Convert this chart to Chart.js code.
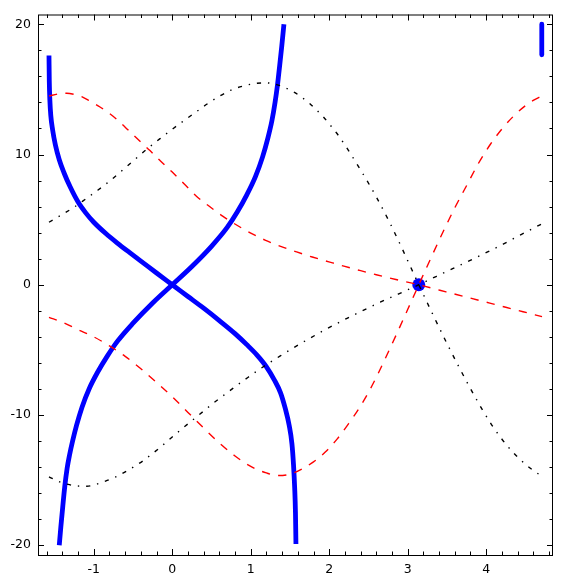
<!DOCTYPE html>
<html><head><meta charset="utf-8">
<script src="https://cdn.jsdelivr.net/npm/chart.js@4/dist/chart.umd.min.js"></script>
<style>html,body{margin:0;padding:0;background:#fff;overflow:hidden;}canvas{display:block;}</style>
</head><body>
<canvas id="c" width="562" height="585"></canvas>
<script>
// ---- tick labels ----
const xTickValues = [-1, 0, 1, 2, 3, 4];
const xTickLabels = ['-1', '0', '1', '2', '3', '4'];
const yTickValues = [-20, -10, 0, 10, 20];
const yTickLabels = ['-20', '-10', '0', '10', '20'];

// ---- blue thick curve, increasing through origin ----
const blueUpX = [-1.44,-1.42,-1.395,-1.37,-1.34,-1.31,-1.27,-1.22,-1.15,-1.06,-0.95,-0.83,-0.7,-0.5,-0.25,0,0.25,0.5,0.7,0.83,0.95,1.06,1.15,1.22,1.27,1.31,1.34,1.37,1.395,1.423];
const blueUpY = [-20,-18.6,-17.0,-15.5,-14.1,-13.1,-12.0,-10.8,-9.4,-8.0,-6.7,-5.5,-4.35,-2.95,-1.4,0,1.4,2.95,4.4,5.6,6.9,8.3,9.8,11.3,12.6,14.0,15.3,16.9,18.3,20];

// ---- blue thick curve, decreasing through origin ----
const blueDownX = [-1.571,-1.567,-1.56,-1.548,-1.525,-1.49,-1.44,-1.38,-1.3,-1.2,-1.1,-1.0,-0.85,-0.7,-0.55,-0.4,-0.2,0,0.2,0.4,0.6,0.8,0.95,1.08,1.2,1.3,1.38,1.44,1.49,1.525,1.545,1.56,1.57,1.576];
const blueDownY = [17.6,15.6,14.2,13.0,11.9,10.75,9.6,8.6,7.5,6.35,5.5,4.8,3.95,3.2,2.5,1.82,0.9,0,-0.9,-1.8,-2.75,-3.75,-4.6,-5.4,-6.3,-7.3,-8.3,-9.5,-10.8,-12.2,-13.8,-15.6,-17.5,-19.9];

// ---- short blue piece at the right edge ----
const blueEdgeX = [4.709, 4.709];
const blueEdgeY = [20, 17.65];

// ---- blue point ----
const dotX = [3.1416];
const dotY = [0];

// ---- red dashed curve 1 ----
const red1X = [-1.571,-1.45,-1.345,-1.25,-1.154,-1.05,-0.921,-0.8,-0.708,-0.6,-0.497,-0.4,-0.284,-0.15,0,0.15,0.311,0.459,0.642,0.841,1.0,1.19,1.381,1.585,1.784,1.996,2.187,2.4,2.6,2.85,3.1416,3.41,3.62,3.79,4.047,4.25,4.47,4.712];
const red1Y = [14.5,14.65,14.7,14.62,14.45,14.1,13.65,13.15,12.7,12.1,11.5,10.95,10.3,9.5,8.65,7.75,6.78,6.08,5.27,4.51,3.97,3.41,2.95,2.52,2.13,1.76,1.43,1.08,0.77,0.4,0,-0.42,-0.75,-1.01,-1.41,-1.73,-2.07,-2.45];

// ---- red dashed curve 2 ----
const red2X = [-1.571,-1.4,-1.2,-1.0,-0.8,-0.6,-0.4,-0.2,0,0.2,0.4,0.6,0.8,1.0,1.2,1.35,1.5,1.65,1.8,1.95,2.1,2.25,2.4,2.55,2.7,2.85,3.0,3.1416,3.3,3.45,3.6,3.75,3.9,4.05,4.2,4.35,4.5,4.6,4.712];
const red2Y = [-2.5,-2.88,-3.45,-4.0,-4.7,-5.5,-6.45,-7.5,-8.6,-9.8,-11.0,-12.15,-13.15,-13.95,-14.45,-14.65,-14.55,-14.15,-13.6,-12.85,-11.85,-10.65,-9.3,-7.7,-5.85,-3.9,-1.9,0,2.1,4.05,5.9,7.6,9.3,10.75,11.95,12.95,13.75,14.15,14.5];

// ---- black dash-dot curve 1 ----
const black1X = [-1.571,-1.4,-1.24,-1.1,-0.963,-0.8,-0.624,-0.47,-0.326,-0.16,0.013,0.183,0.311,0.45,0.608,0.75,0.9,1.075,1.2,1.33,1.45,1.563,1.66,1.754,1.85,1.924,2.0,2.094,2.22,2.35,2.476,2.604,2.773,2.943,3.1416,3.326,3.5,3.665,3.78,3.878,3.96,4.07,4.175,4.26,4.344,4.43,4.515,4.61,4.712];
const black1Y = [4.8,5.4,6.0,6.6,7.2,7.95,8.85,9.65,10.4,11.2,12.0,12.75,13.3,13.9,14.5,14.95,15.25,15.47,15.5,15.37,15.1,14.75,14.35,13.9,13.35,12.9,12.35,11.65,10.55,9.3,8.05,6.7,4.75,2.6,0,-2.35,-4.5,-6.45,-7.75,-8.82,-9.68,-10.75,-11.65,-12.3,-12.88,-13.4,-13.86,-14.3,-14.7];

// ---- black dash-dot curve 2 ----
const black2X = [-1.571,-1.45,-1.345,-1.22,-1.09,-0.96,-0.836,-0.7,-0.581,-0.47,-0.369,-0.26,-0.157,-0.05,0.056,0.14,0.268,0.4,0.522,0.63,0.735,0.841,0.98,1.117,1.25,1.372,1.52,1.669,1.82,1.967,2.1,2.22,2.35,2.52,2.65,2.773,2.986,3.1416,3.368,3.58,3.79,4.005,4.217,4.451,4.712];
const black2Y = [-14.75,-15.1,-15.3,-15.45,-15.47,-15.3,-15.04,-14.7,-14.3,-13.9,-13.5,-13.0,-12.5,-11.95,-11.4,-10.98,-10.35,-9.7,-9.1,-8.6,-8.13,-7.65,-7.05,-6.47,-5.95,-5.48,-4.93,-4.4,-3.88,-3.39,-2.97,-2.6,-2.21,-1.71,-1.34,-1.0,-0.43,0,0.65,1.25,1.85,2.48,3.12,3.87,4.68];

const pts = (xs, ys) => xs.map((x, i) => ({x: x, y: ys[i]}));

const lineDs = (xs, ys, color, width, dash) => ({
  data: pts(xs, ys), showLine: true, borderColor: color, backgroundColor: color,
  borderWidth: width, borderDash: dash, pointRadius: 0, pointHoverRadius: 0,
  cubicInterpolationMode: 'monotone', fill: false, borderCapStyle: 'butt', borderJoinStyle: 'round'
});

const blackDash = [4.2, 6.9, 1.4, 6.9];
const redDash = [8.3, 8.3];

const datasets = [
  lineDs(black1X, black1Y, '#000000', 1.4, blackDash),
  lineDs(black2X, black2Y, '#000000', 1.4, blackDash),
  lineDs(red1X, red1Y, '#ff0000', 1.4, redDash),
  lineDs(red2X, red2Y, '#ff0000', 1.4, redDash),
  { data: pts(dotX, dotY), showLine: false, pointRadius: 6.5, pointHoverRadius: 6.5,
    backgroundColor: '#0000ff', borderColor: '#0000ff', borderWidth: 0 },
  lineDs(blueUpX, blueUpY, '#0000ff', 4.8, []),
  lineDs(blueDownX, blueDownY, '#0000ff', 4.8, []),
  Object.assign(lineDs(blueEdgeX, blueEdgeY, '#0000ff', 4.8, []), {cubicInterpolationMode: 'default', tension: 0})
];

const framePlugin = {
  id: 'frameTicks',
  afterDatasetsDraw(chart) {
    const {ctx, chartArea: a, scales: {x, y}} = chart;
    ctx.save();
    ctx.strokeStyle = '#000';
    ctx.lineWidth = 1;
    ctx.beginPath();
    const major = 6, minor = 3.5;
    const xt = (v, len) => {
      const p = Math.round(x.getPixelForValue(v)) + 0.5;
      ctx.moveTo(p, a.bottom); ctx.lineTo(p, a.bottom - len);
      ctx.moveTo(p, a.top); ctx.lineTo(p, a.top + len);
    };
    const yt = (v, len) => {
      const p = Math.round(y.getPixelForValue(v)) + 0.5;
      ctx.moveTo(a.left, p); ctx.lineTo(a.left + len, p);
      ctx.moveTo(a.right, p); ctx.lineTo(a.right - len, p);
    };
    for (let k = -8; k <= 24; k++) {
      if (k % 5 === 0) continue;
      xt(k * 0.2, minor);
    }
    xTickValues.forEach(v => xt(v, major));
    for (let k = -10; k <= 10; k++) {
      if (k % 5 === 0) continue;
      yt(k * 2, minor);
    }
    yTickValues.forEach(v => yt(v, major));
    ctx.stroke();
    ctx.strokeRect(a.left + 0.5, a.top + 0.5, a.right - a.left - 1, a.bottom - a.top);
    ctx.restore();
  }
};

const tickFont = {family: 'DejaVu Sans', size: 12.5};

new Chart(document.getElementById('c'), {
  type: 'scatter',
  data: {datasets: datasets},
  options: {
    responsive: false,
    animation: false,
    devicePixelRatio: 1,
    layout: {padding: {top: 10, right: 9, bottom: 0, left: 0}},
    plugins: {legend: {display: false}, tooltip: {enabled: false}},
    events: [],
    scales: {
      x: {
        type: 'linear', min: -1.711, max: 4.852,
        grid: {display: false, drawTicks: false},
        border: {display: false},
        afterBuildTicks: s => { s.ticks = xTickValues.map(v => ({value: v})); },
        afterFit: s => { s.height = 30; },
        ticks: {
          padding: 7, color: '#000', font: tickFont, autoSkip: false, maxRotation: 0,
          callback: (v) => { const i = xTickValues.indexOf(v); return i >= 0 ? xTickLabels[i] : ''; }
        }
      },
      y: {
        type: 'linear', min: -20.75, max: 20.75,
        grid: {display: false, drawTicks: false},
        border: {display: false},
        afterBuildTicks: s => { s.ticks = yTickValues.map(v => ({value: v})); },
        afterFit: s => { s.width = 38; },
        ticks: {
          padding: 7, color: '#000', font: tickFont, autoSkip: false,
          callback: (v) => { const i = yTickValues.indexOf(v); return i >= 0 ? yTickLabels[i] : ''; }
        }
      }
    }
  },
  plugins: [framePlugin]
});
</script>
</body></html>
